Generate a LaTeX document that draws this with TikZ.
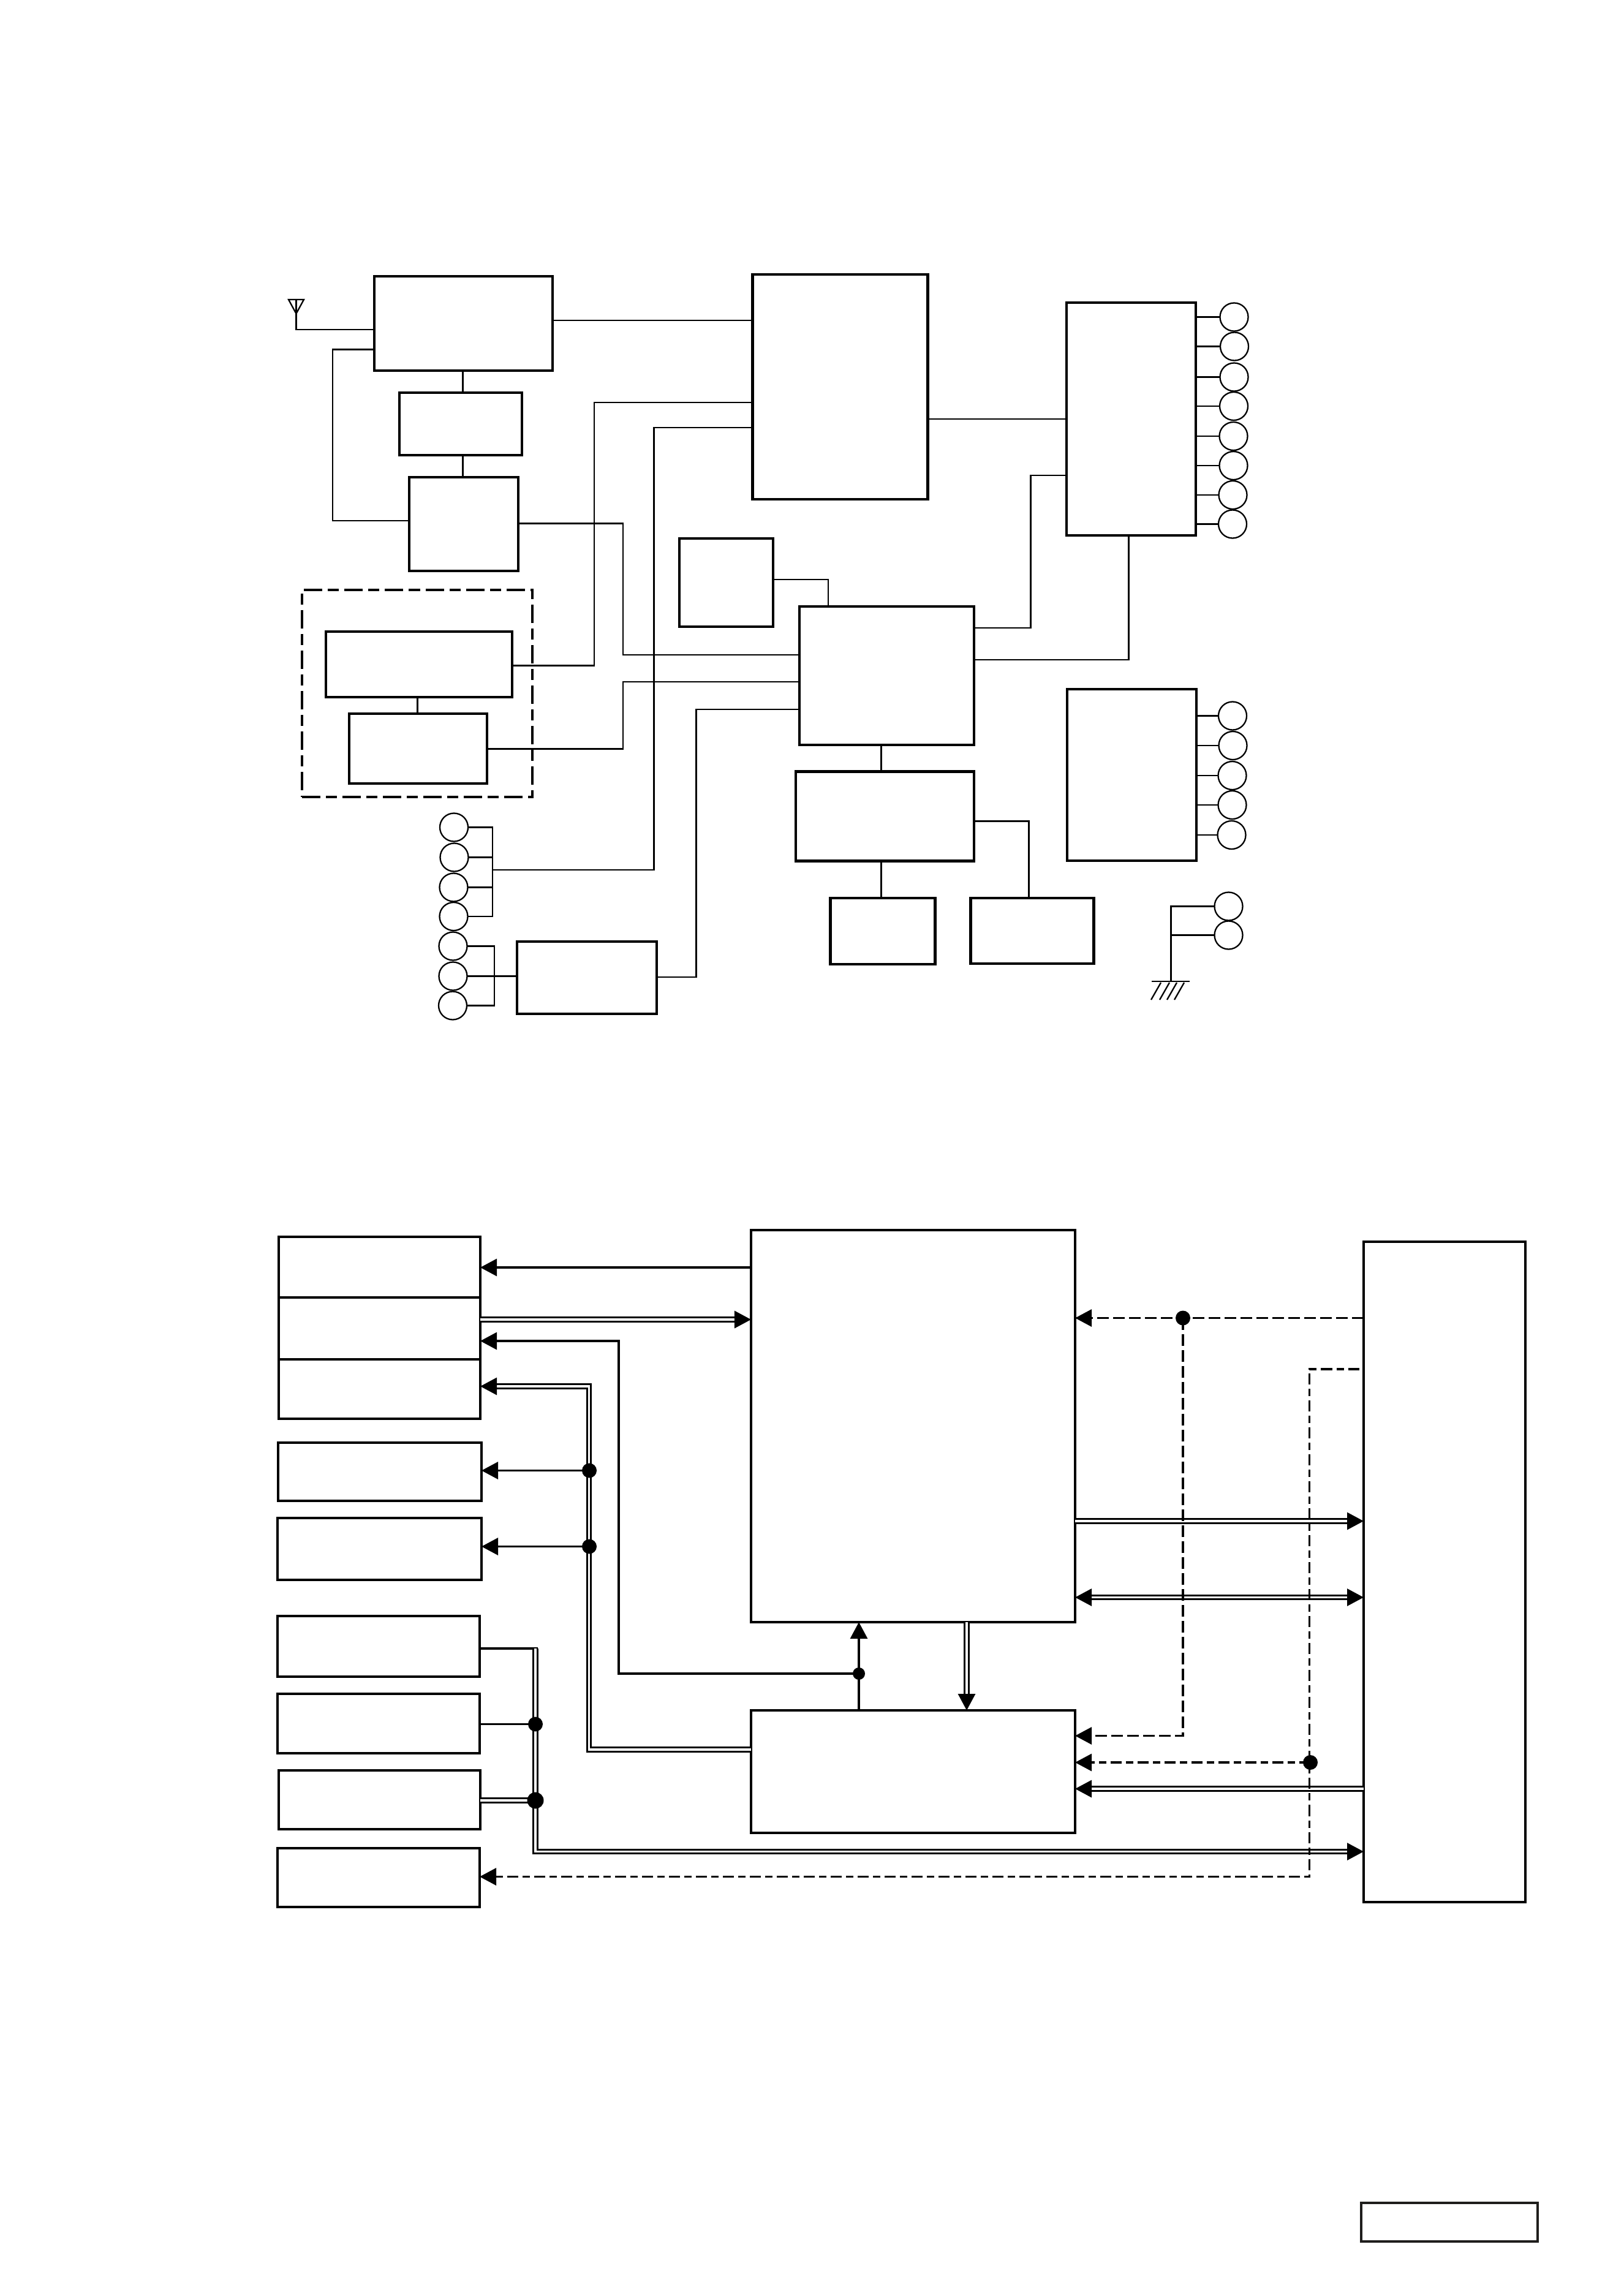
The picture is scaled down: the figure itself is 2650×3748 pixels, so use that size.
\documentclass[tikz,border=0pt]{standalone}
\usetikzlibrary{arrows.meta}
\definecolor{tagblack}{HTML}{1F1E1C}
\begin{document}
\begin{tikzpicture}[x=.01cm, y=-.01cm, >={Triangle[length=.27cm,width=.28cm]}]
\tikzset{boxsize/.style 2 args={minimum width=#1*.01cm, minimum height=#2*.01cm}}
\tikzstyle{every node}+=[inner sep=0pt, outer sep=0pt]
\tikzstyle{heavybox}=[draw, line width=.045cm]
\tikzstyle{plainbox}=[draw, line width=.032cm]
\tikzstyle{jack}=[draw, circle, line width=.023cm, minimum size=.46cm]
\tikzstyle{dot}=[fill=black, circle, minimum size=.24cm]
\tikzstyle{thinwire}=[line width=.023cm]
\tikzstyle{wire}=[line width=.032cm]
\tikzstyle{bus}=[line width=.032cm, double, double distance=.035cm]
\tikzstyle{dashwire}=[line width=.032cm, dash pattern=on .19cm off .07cm]
\tikzstyle{altdash}=[line width=.032cm, dash pattern=on .18cm off .07cm on .12cm off .07cm]
\useasboundingbox (0,0) rectangle (2650,3748);

\node [heavybox, boxsize={291}{154}] (rfbox) at (756.5,528) {};
\node [heavybox, boxsize={200}{102}] (filterbox) at (752,692) {};
\node [heavybox, boxsize={178}{153}] (ifbox) at (757,855.5) {};
\node [draw, line width=.045cm, dash pattern=on .3cm off .09cm on .18cm off .09cm, boxsize={376}{338}] (modframe) at (681,1132) {};
\node [heavybox, boxsize={304}{107}] (modbox) at (684,1084.5) {};
\node [heavybox, boxsize={225}{114}] (subbox) at (682.5,1222) {};
\node [heavybox, boxsize={286}{367}] (cpubox) at (1371.5,631.5) {};
\node [heavybox, boxsize={153}{144}] (membox) at (1185.5,951) {};
\node [heavybox, boxsize={285}{226}] (decbox) at (1447.5,1103) {};
\node [heavybox, boxsize={291}{146}] (pwrbox) at (1444.5,1332.5) {};
\node [heavybox, boxsize={171}{108}] (regbox) at (1441,1520) {};
\node [heavybox, boxsize={201}{107}] (drvbox) at (1685,1519.5) {};
\node [heavybox, boxsize={228}{118}] (inbox) at (958,1596) {};
\node [heavybox, boxsize={211}{380}] (outboxa) at (1846.5,684) {};
\node [heavybox, boxsize={211}{280}] (outboxb) at (1847.5,1265) {};

\coordinate (ant) at (483.5,489);
\draw [thinwire] (471,489) -- (496,489) -- (483.5,512) -- cycle;
\draw [thinwire] (ant) -- (483.5,538) -- (rfbox.west |- 0,538);
\draw [thinwire] (rfbox.west |- 0,570.5) -- (543,570.5) -- (543,850) -- (ifbox.west |- 0,850);
\draw [thinwire] (rfbox.east |- 0,523) -- (cpubox.west |- 0,523);
\draw [thinwire] (rfbox.south -| 755.5,0) -- (filterbox.north -| 755.5,0);
\draw [thinwire] (filterbox.south -| 755.5,0) -- (ifbox.north -| 755.5,0);
\draw [thinwire] (modbox.south -| 681.5,0) -- (subbox.north -| 681.5,0);
\draw [thinwire] (modbox.east |- 0,1086.5) -- (970,1086.5) -- (970,657) -- (cpubox.west |- 0,657);
\draw [thinwire] (ifbox.east |- 0,854.5) -- (1017,854.5) -- (1017,1069) -- (decbox.west |- 0,1069);
\draw [thinwire] (subbox.east |- 0,1222.5) -- (1017,1222.5) -- (1017,1113) -- (decbox.west |- 0,1113);
\draw [thinwire] (membox.east |- 0,946) -- (1352,946) -- (decbox.north -| 1352,0);
\draw [thinwire] (cpubox.east |- 0,684) -- (outboxa.west |- 0,684);
\draw [thinwire] (decbox.east |- 0,1025) -- (1682.5,1025) -- (1682.5,776) -- (outboxa.west |- 0,776);
\draw [thinwire] (decbox.east |- 0,1077) -- (1842.5,1077) -- (outboxa.south -| 1842.5,0);
\draw [thinwire] (decbox.south -| 1438.5,0) -- (pwrbox.north -| 1438.5,0);
\draw [thinwire] (pwrbox.south -| 1438.5,0) -- (regbox.north -| 1438.5,0);
\draw [thinwire] (pwrbox.east |- 0,1340.5) -- (1679.5,1340.5) -- (drvbox.north -| 1679.5,0);

\node [jack] (jacka) at (741,1350.5) {};
\node [jack] (jackb) at (741.5,1399.5) {};
\node [jack] (jackc) at (740.5,1448.5) {};
\node [jack] (jackd) at (740.5,1496) {};
\node [jack] (jacke) at (739.5,1544.5) {};
\node [jack] (jackf) at (739.5,1593.5) {};
\node [jack] (jackg) at (739,1641.5) {};
\draw [thinwire] (jacka.east) -| (804,1420) |- (jackd.east);
\draw [thinwire] (jackb.east) -- (804,1399.5);
\draw [thinwire] (jackc.east) -- (804,1448.5);
\draw [thinwire] (804,1420) -- (1067.5,1420) -- (1067.5,698) -- (cpubox.west |- 0,698);
\draw [thinwire] (jacke.east) -| (807,1641.5) -- (jackg.east);
\draw [thinwire] (jackf.east) -- (inbox.west |- jackf.east);
\draw [thinwire] (inbox.east |- 0,1595) -- (1136.5,1595) -- (1136.5,1158) -- (decbox.west |- 0,1158);

\node [jack] (outa) at (2014.5,517.5) {};
\node [jack] (outb) at (2015,565.5) {};
\node [jack] (outc) at (2014.5,615.5) {};
\node [jack] (outd) at (2014,663) {};
\node [jack] (oute) at (2013.5,712) {};
\node [jack] (outf) at (2013.5,760) {};
\node [jack] (outg) at (2012.5,808) {};
\node [jack] (outh) at (2012,855.5) {};
\draw [thinwire] (outboxa.east |- outa.west) -- (outa.west);
\draw [thinwire] (outboxa.east |- outb.west) -- (outb.west);
\draw [thinwire] (outboxa.east |- outc.west) -- (outc.west);
\draw [thinwire] (outboxa.east |- outd.west) -- (outd.west);
\draw [thinwire] (outboxa.east |- oute.west) -- (oute.west);
\draw [thinwire] (outboxa.east |- outf.west) -- (outf.west);
\draw [thinwire] (outboxa.east |- outg.west) -- (outg.west);
\draw [thinwire] (outboxa.east |- outh.west) -- (outh.west);

\node [jack] (auxa) at (2012,1168.5) {};
\node [jack] (auxb) at (2012.5,1217) {};
\node [jack] (auxc) at (2011.5,1266) {};
\node [jack] (auxd) at (2011.5,1314) {};
\node [jack] (auxe) at (2010.5,1363) {};
\draw [thinwire] (outboxb.east |- auxa.west) -- (auxa.west);
\draw [thinwire] (outboxb.east |- auxb.west) -- (auxb.west);
\draw [thinwire] (outboxb.east |- auxc.west) -- (auxc.west);
\draw [thinwire] (outboxb.east |- auxd.west) -- (auxd.west);
\draw [thinwire] (outboxb.east |- auxe.west) -- (auxe.west);

\node [jack] (gnda) at (2005.5,1479.5) {};
\node [jack] (gndb) at (2005.5,1526.5) {};
\coordinate (gnd) at (1911.5,1602);
\draw [thinwire] (gnd) |- (gnda.west);
\draw [thinwire] (1911.5,1526.5) -- (gndb.west);
\draw [thinwire] (1880,1602) -- (1942,1602);
\draw [thinwire] (1895,1604) -- (1879,1632);
\draw [thinwire] (1909,1604) -- (1893,1632);
\draw [thinwire] (1921,1604) -- (1905,1632);
\draw [thinwire] (1933,1604) -- (1917,1632);

\node [plainbox, boxsize={329}{99}] (boxa) at (619.5,2068.5) {};
\node [plainbox, boxsize={329}{101}] (boxb) at (619.5,2168.5) {};
\node [plainbox, boxsize={329}{97}] (boxc) at (619.5,2267.5) {};
\node [plainbox, boxsize={332}{95}] (boxd) at (620,2402.5) {};
\node [plainbox, boxsize={333}{101}] (boxe) at (619.5,2528.5) {};
\node [plainbox, boxsize={330}{99}] (boxf) at (618,2687.5) {};
\node [plainbox, boxsize={330}{97}] (boxg) at (618,2813.5) {};
\node [plainbox, boxsize={329}{96}] (boxh) at (619.5,2938) {};
\node [plainbox, boxsize={330}{96}] (boxi) at (618,3065) {};
\node [plainbox, boxsize={529}{640}] (bigbox) at (1490.5,2328) {};
\node [plainbox, boxsize={529}{200}] (lowbox) at (1490.5,2892) {};
\node [plainbox, boxsize={264}{1078}] (rightbox) at (2358,2566) {};
\node [draw=tagblack, line width=.037cm, boxsize={288}{63}] (tagbox) at (2366,3627.5) {};

\coordinate (dashstart) at (2218.5,2235);
\draw [wire,->] (bigbox.west |- 0,2069) -- (boxa.east |- 0,2069);
\draw [bus,->] (boxb.east |- 0,2154) -- (bigbox.west |- 0,2154);
\draw [wire,->] (1402,2732) -- (1010,2732) -- (1010,2189) -- (boxb.east |- 0,2189);
\draw [wire,->] (lowbox.north -| 1402,0) -- (bigbox.south -| 1402,0);
\draw [bus,->] (bigbox.south -| 1578,0) -- (lowbox.north -| 1578,0);
\draw [bus,->] (lowbox.west |- 0,2856) -- (961.5,2856) -- (961.5,2263) -- (boxc.east |- 0,2263);
\draw [wire,->] (962,2400.5) -- (boxd.east |- 0,2400.5);
\draw [wire,->] (962,2524.5) -- (boxe.east |- 0,2524.5);
\draw [wire] (boxf.east |- 0,2691) -- (878,2691);
\draw [bus,->] (874,2691) -- (874,3022.5) -- (rightbox.west |- 0,3022.5);
\draw [wire] (boxg.east |- 0,2814.5) -- (874,2814.5);
\draw [bus] (boxh.east |- 0,2939) -- (874,2939);
\draw [bus,->] (bigbox.east |- 0,2483) -- (rightbox.west |- 0,2483);
\draw [bus,<->] (bigbox.east |- 0,2607.5) -- (rightbox.west |- 0,2607.5);
\draw [bus,->] (rightbox.west |- 0,2920) -- (lowbox.east |- 0,2920);
\draw [dashwire,->] (rightbox.west |- 0,2151.5) -- (bigbox.east |- 0,2151.5);
\draw [dashwire,->] (1931,2151.5) -- (1931,2833.5) -- (lowbox.east |- 0,2833.5);
\draw [altdash,->] (2139,2877) -- (lowbox.east |- 0,2877);
\draw [altdash,->] (dashstart) -- (2137.5,2235) -- (2137.5,3063.5) -- (boxi.east |- 0,3063.5);

\node [dot] (joind) at (962,2400.5) {};
\node [dot] (joine) at (962,2524.5) {};
\node [dot] (joing) at (874,2814.5) {};
\node [dot, minimum size=.27cm] (joinh) at (874,2939) {};
\node [dot, minimum size=.2cm] (joinc) at (1402,2732) {};
\node [dot] (joint) at (1931,2151.5) {};
\node [dot] (joinl) at (2139,2877) {};
\end{tikzpicture}
\end{document}
